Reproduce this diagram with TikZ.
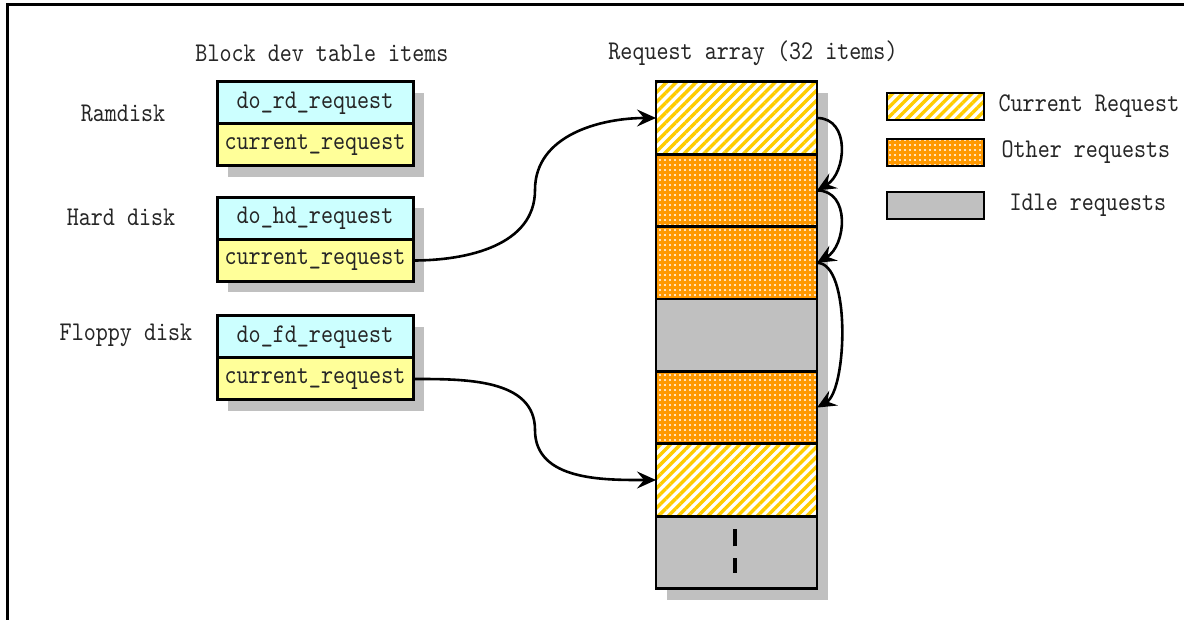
\documentclass[tikz,border=0pt]{standalone}
\usepackage{fontspec}
\newfontfamily\simfont{lmmono10-regular.otf}[FakeStretch=0.85]
\usetikzlibrary{arrows.meta,positioning,patterns.meta,shadows}
\definecolor{fncyan}{HTML}{CCFFFF}
\definecolor{crqyellow}{HTML}{FFFF99}
\definecolor{idlegray}{HTML}{C0C0C0}
\definecolor{othorange}{HTML}{FF9900}
\definecolor{curyellow}{HTML}{FFCC00}
\tikzset{
  txt/.style={font=\simfont\fontsize{27}{30}\selectfont, text=black!85, inner sep=0pt},
  boxshadow/.style={drop shadow={shadow xshift=11pt,shadow yshift=-11pt,fill=idlegray,opacity=1}},
  field/.style={txt, draw, line width=3pt, outer sep=0pt, minimum width=196pt, minimum height=42pt, boxshadow},
  fn/.style={field, fill=fncyan},
  crq/.style={field, fill=crqyellow},
  slot/.style={draw, line width=2.8pt, outer sep=0pt, minimum width=161pt, minimum height=72.4pt, boxshadow},
  cur/.style={preaction={fill=white}, pattern={Lines[angle=45,distance=7pt,line width=3.4pt]}, pattern color=curyellow},
  oth/.style={preaction={fill=othorange}, pattern={Dots[distance=5pt,radius=1.2pt]}, pattern color=white},
  idle/.style={fill=idlegray},
  key/.style={draw, line width=2.8pt, minimum width=97pt, minimum height=27pt},
  link/.style={-{Stealth[length=19pt,width=17pt,inset=7pt]}, line width=2.6pt},
}
\begin{document}
\begin{tikzpicture}[x=1pt,y=1pt]
  \useasboundingbox (0,0) rectangle (1184,-620);
  \draw[line width=3pt] (7,-620) -- (7,-5) -- (1184,-5);

  % block device table
  \node[txt] (devtitle) at (322,-53) {Block dev table items};
  \node[fn] (rdfn) at (315,-103) {do\_rd\_request};
  \node[crq, below=0pt of rdfn] (rdcrq) {current\_request};
  \node[fn] (hdfn) at (315,-218.5) {do\_hd\_request};
  \node[crq, below=0pt of hdfn] (hdcrq) {current\_request};
  \node[fn] (fdfn) at (315,-337) {do\_fd\_request};
  \node[crq, below=0pt of fdfn] (fdcrq) {current\_request};
  \node[txt] (rdname) at (123,-113) {Ramdisk};
  \node[txt] (hdname) at (121,-217) {Hard disk};
  \node[txt] (fdname) at (126,-335) {Floppy disk};

  % request array
  \node[txt] (arrtitle) at (753,-53) {Request array (32 items)};
  \node[slot, cur] (s1) at (736.5,-118) {};
  \node[slot, oth, below=0pt of s1] (s2) {};
  \node[slot, oth, below=0pt of s2] (s3) {};
  \node[slot, idle, below=0pt of s3] (s4) {};
  \node[slot, oth, below=0pt of s4] (s5) {};
  \node[slot, cur, below=0pt of s5] (s6) {};
  \node[slot, idle, below=0pt of s6] (s7) {};
  \draw[line width=4pt] ([xshift=-1.5pt,yshift=6pt]s7.center) -- ([xshift=-1.5pt,yshift=23pt]s7.center);
  \draw[line width=4pt] ([xshift=-1.5pt,yshift=-6pt]s7.center) -- ([xshift=-1.5pt,yshift=-21pt]s7.center);

  % legend
  \node[key, cur] (kcur) at (935.5,-106.5) {};
  \node[txt, right=13pt of kcur] (tcur) {Current Request};
  \node[key, oth] (koth) at (935.5,-152.5) {};
  \node[txt, right=16pt of koth] (toth) {Other requests};
  \node[key, idle] (kidle) at (935.5,-205.5) {};
  \node[txt, right=24pt of kidle] (tidle) {Idle requests};

  % links
  \coordinate (hdbend) at (535,-190);
  \coordinate (fdbend) at (535,-430);
  \draw[link] (hdcrq.east) to[out=0,in=-90] (hdbend) to[out=90,in=180] (s1.west);
  \draw[link] (fdcrq.east) to[out=0,in=90] (fdbend) to[out=-90,in=180] (s6.west);
  \draw[link] (s1.east) to[out=0,in=30,looseness=1.2] (s2.east);
  \draw[link] (s2.east) to[out=0,in=30,looseness=1.2] (s3.east);
  \draw[link] (s3.east) to[out=0,in=30,looseness=0.61] (s5.east);
\end{tikzpicture}
\end{document}
